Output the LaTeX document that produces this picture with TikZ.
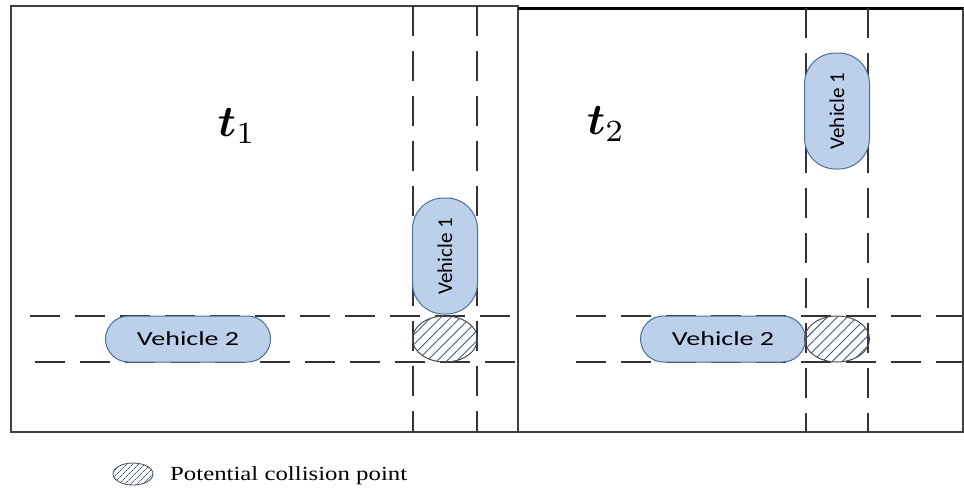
\documentclass[tikz,border=0pt]{standalone}
\usepackage{bm}
\usepackage{fontspec}
\usetikzlibrary{patterns.meta,shapes.geometric}
\newfontfamily\vfont[FakeStretch=1.4]{Carlito}
\newfontfamily\vfontv{Carlito}
\newfontfamily\lfont[FakeStretch=1.24]{Liberation Serif}
\definecolor{vfill}{HTML}{BCD0EA}
\definecolor{vdraw}{HTML}{4A6F9C}
\definecolor{hatch}{HTML}{3D5E8C}
\tikzset{
 panel/.style={draw=black!75, line width=1.5pt},
 road/.style={draw=black!80, line width=1.3pt, dash pattern=on 30pt off 15pt},
 vehh/.style={draw=vdraw, fill=vfill, line width=1pt, rounded corners=23pt, minimum width=165pt, minimum height=46pt, inner sep=0pt, font=\vfont\fontsize{20}{24}\selectfont},
 vehv/.style={draw=vdraw, fill=vfill, line width=1pt, rounded corners=31pt, rotate=90, minimum width=116pt, minimum height=65pt, inner sep=0pt, font=\vfontv\fontsize{21}{24}\selectfont},
 collide/.style={ellipse, draw=black!70, line width=1pt, pattern={Lines[angle=45,distance=7pt,line width=0.9pt]}, pattern color=hatch, minimum width=65pt, minimum height=46pt, inner sep=0pt},
 tlabel/.style={inner sep=0pt}
}
\begin{document}
\begin{tikzpicture}[x=1pt,y=-1pt]
\useasboundingbox (0,0) rectangle (964,491);
\fill[white] (0,0) rectangle (964,491);
% panels
\draw[panel] (11,6) rectangle (518,432);
\draw[panel] (518,8) rectangle (963,432);
\draw[black, line width=3pt] (518,8) -- (963,8);
% roads left
\draw[road] (413,6) -- (413,432);
\draw[road] (477,6) -- (477,432);
\draw[road] (30,316) -- (518,316);
\draw[road] (35,362) -- (518,362);
% roads right
\draw[road] (806,8) -- (806,432);
\draw[road] (868,8) -- (868,432);
\draw[road] (576,316) -- (962,316);
\draw[road] (576,362) -- (962,362);
% labels
\node[tlabel] (t1) at (237,126) {\scalebox{4.4}{$\bm{t}_1$}};
\node[tlabel] (t2) at (606,124) {\scalebox{4.4}{$\bm{t}_2$}};
% left panel vehicles
\node[vehv] (v1a) at (445,256) {Vehicle 1};
\node[vehh] (v2a) at (188,339) {Vehicle 2};
\node[collide] (ca) at (445,339) {};
% right panel vehicles
\node[vehv] (v1b) at (837,111) {Vehicle 1};
\node[vehh] (v2b) at (723,339) {Vehicle 2};
\node[collide] (cb) at (837,339) {};
% legend
\node[collide, minimum width=40pt, minimum height=22pt, line width=0.8pt, pattern={Lines[angle=45,distance=4pt,line width=0.7pt]}] (lg) at (133,474) {};
\node[anchor=west, inner sep=0pt, font=\lfont\fontsize{20}{22}\selectfont] (lgt) at (170,476) {Potential collision point};
\end{tikzpicture}
\end{document}
